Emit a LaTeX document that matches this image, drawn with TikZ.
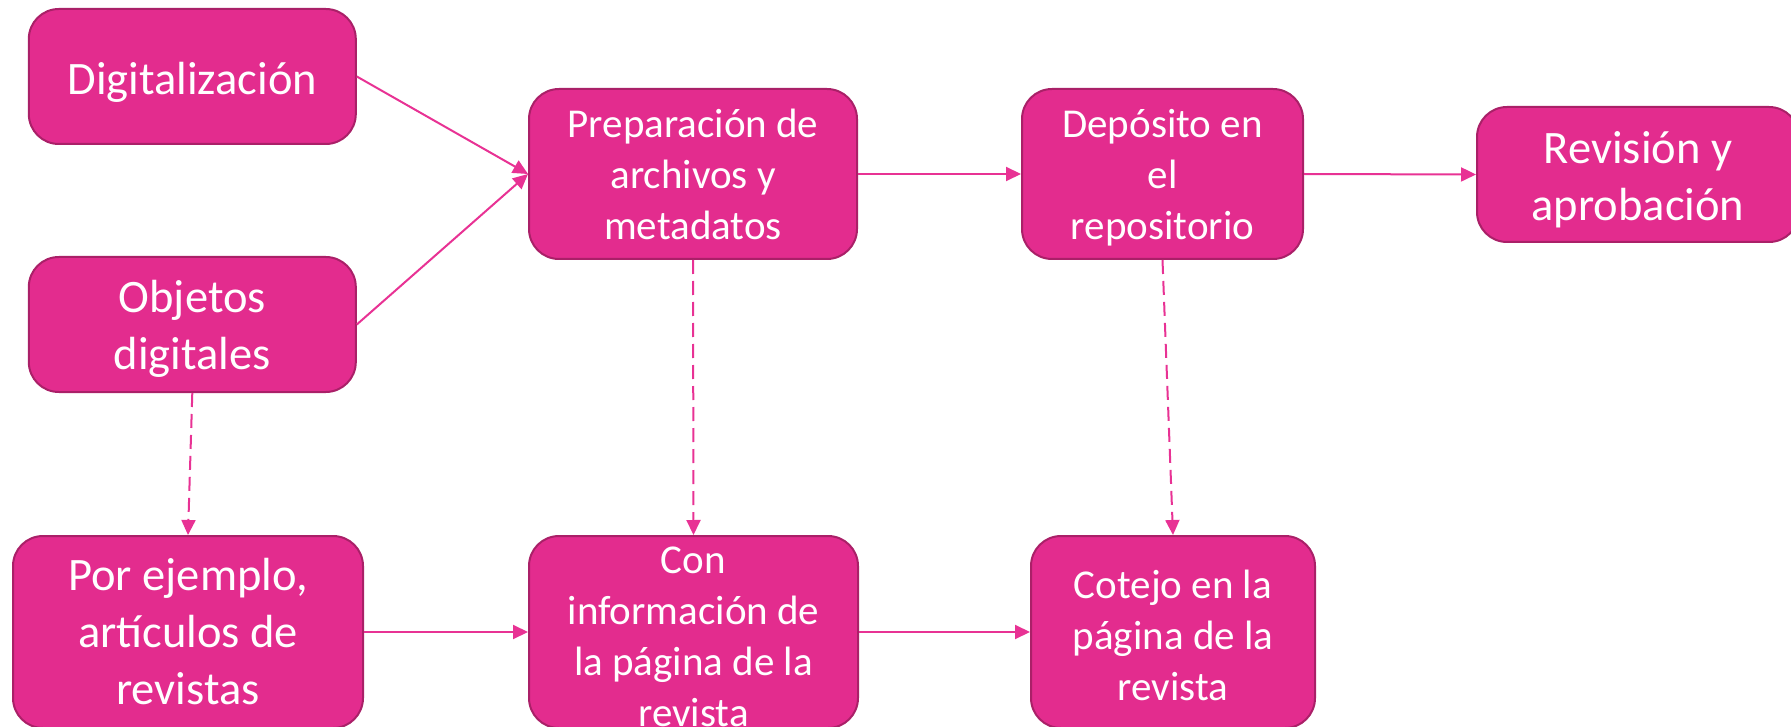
\documentclass[tikz,border=0pt]{standalone}
\usepackage{fontspec}
\setmainfont{Carlito}
\usetikzlibrary{arrows.meta}
\definecolor{boxfill}{RGB}{227,44,142}
\definecolor{boxline}{RGB}{170,32,104}
\definecolor{arrowc}{RGB}{232,50,148}
\tikzset{
  stepbox/.style={draw=boxline, line width=2pt, fill=boxfill, rounded corners=30pt,
    inner sep=0pt},
  bigtxt/.style={font=\fontsize{46.5}{57}\selectfont},
  smalltxt/.style={font=\fontsize{41}{51}\selectfont},
  txtonly/.style={inner sep=0pt, text=white, align=center},
  flow/.style={draw=arrowc, line width=2pt, -{Triangle[length=15pt,width=14pt]}},
  dflow/.style={flow, dash pattern=on 14pt off 7pt}
}
\begin{document}
\begin{tikzpicture}[x=1pt,y=-1pt]
\useasboundingbox (0,0) rectangle (1791,727);
\clip (0,0) rectangle (1791,727);
\node[stepbox, minimum width=327pt, minimum height=135pt] (dig) at (192.3,76.5) {};
\node[stepbox, minimum width=327pt, minimum height=135pt] (obj) at (192.3,324.5) {};
\node[stepbox, minimum width=328pt, minimum height=170pt] (prep) at (693,174) {};
\node[stepbox, minimum width=281pt, minimum height=170pt] (dep) at (1162.5,174) {};
\node[stepbox, minimum width=322pt, minimum height=135pt] (rev) at (1638,174.5) {};
\node[stepbox, minimum width=350pt, minimum height=192pt] (por) at (188,632) {};
\node[stepbox, minimum width=329pt, minimum height=192pt] (con) at (693.5,632) {};
\node[stepbox, minimum width=284pt, minimum height=192pt] (cot) at (1173,632) {};

\node[txtonly, bigtxt, yshift=-6pt] (digtxt) at (dig) {Digitalización};
\node[txtonly, bigtxt, yshift=-4.5pt] (objtxt) at (obj) {Objetos\\digitales};
\node[txtonly, smalltxt] (preptxt) at (prep) {Preparación de\\archivos y\\metadatos};
\node[txtonly, smalltxt, yshift=-3.5pt] (deptxt) at (dep) {Depósito en\\el\\repositorio};
\node[txtonly, bigtxt, yshift=-5.5pt] (revtxt) at (rev) {Revisión y\\aprobación};
\node[txtonly, bigtxt] (portxt) at (por) {Por ejemplo,\\artículos de\\revistas};
\node[txtonly, smalltxt, yshift=-5pt] (contxt) at (con) {Con\\información de\\la página de la\\revista};
\node[txtonly, smalltxt, yshift=-3pt] (cottxt) at (cot) {Cotejo en la\\página de la\\revista};

\draw[flow] (dig.east) -- (prep.west);
\draw[flow] (obj.east) -- (prep.west);
\draw[flow] (prep.east) -- (dep.west);
\draw[flow] (dep.east) -- (rev.west);
\draw[flow] (por.east) -- (con.west);
\draw[flow] (con.east) -- (cot.west);
\draw[dflow] (obj.south) -- (por.north);
\draw[dflow] (prep.south) -- (con.north);
\draw[dflow] (dep.south) -- (cot.north);
\end{tikzpicture}
\end{document}
